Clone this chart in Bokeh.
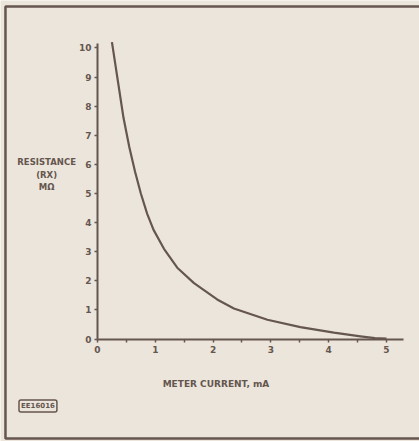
from bokeh.plotting import figure
from bokeh.models import Range1d, FixedTicker, Label, LinearAxis
from bokeh.embed import file_html
from bokeh.resources import INLINE

# Data
current_mA = [0.25, 0.35, 0.45, 0.55, 0.65, 0.75, 0.86, 0.97, 1.15, 1.38,
              1.67, 2.07, 2.36, 2.94, 3.51, 4.09, 4.55, 4.8, 5.0]
resistance_M = [10.2, 8.9, 7.6, 6.6, 5.75, 5.0, 4.3, 3.75, 3.1, 2.45,
                1.92, 1.36, 1.05, 0.66, 0.41, 0.22, 0.09, 0.03, 0.01]
x_ticks = [0, 1, 2, 3, 4, 5]
x_minor = [0.5, 1.5, 2.5, 3.5, 4.5]
y_ticks = [0, 1, 2, 3, 4, 5, 6, 7, 8, 9, 10]
x_title = "METER CURRENT, mA"
y_title = ["RESISTANCE", "(RX)", "M\u03a9"]
code_label = "EE16016"

INK = "#65564e"
PAPER = "#ece5dc"
FONT = "DejaVu Sans"

p = figure(width=419, height=441, output_backend="svg", toolbar_location=None,
           x_range=Range1d(-1.678, 5.571), y_range=Range1d(-3.522, 11.632),
           x_axis_location=None, y_axis_location=None,
           min_border=0)
p.background_fill_color = PAPER
p.border_fill_color = PAPER
p.outline_line_color = None
p.grid.visible = False

xax = LinearAxis(fixed_location=0, bounds=(0, 5.3),
                 ticker=FixedTicker(ticks=x_ticks, minor_ticks=x_minor))
yax = LinearAxis(fixed_location=0, bounds=(0, 10.15),
                 ticker=FixedTicker(ticks=y_ticks, minor_ticks=[]))
for ax in (xax, yax):
    ax.axis_line_color = INK
    ax.axis_line_width = 2
    ax.major_tick_line_color = INK
    ax.major_tick_line_width = 1.5
    ax.major_tick_in = 0
    ax.major_tick_out = 3
    ax.minor_tick_line_color = INK
    ax.minor_tick_line_width = 1.5
    ax.minor_tick_in = 0
    ax.minor_tick_out = 3
    ax.major_label_text_font = FONT
    ax.major_label_text_font_style = "bold"
    ax.major_label_text_font_size = "9px"
    ax.major_label_text_color = INK
xax.major_label_standoff = 4
yax.major_label_standoff = 3
p.add_layout(xax, "below")
p.add_layout(yax, "left")

p.line(current_mA, resistance_M, line_color=INK, line_width=2.2,
       line_join="round")

# axis titles
for i, t in enumerate(y_title):
    p.add_layout(Label(x=-0.88, y=6.07 - 0.43 * i, text=t, text_align="center",
                       text_baseline="middle", text_font=FONT,
                       text_font_style="bold", text_font_size="8.5px",
                       text_color=INK))
p.add_layout(Label(x=2.05, y=-1.53, text=x_title, text_align="center",
                   text_baseline="middle", text_font=FONT,
                   text_font_style="bold", text_font_size="9px",
                   text_color=INK))
p.add_layout(Label(x=-1.03, y=-2.3, text=code_label, text_align="center",
                   text_baseline="middle", text_font=FONT,
                   text_font_style="bold", text_font_size="7px",
                   text_color=INK, border_line_color=INK, border_line_width=1.5,
                   padding=2, border_radius=2))

# page frame
p.line([5.6, -1.592, -1.592, 5.6], [11.43, 11.43, -3.42, -3.42],
       line_color=INK, line_width=2.5)

open("out.html", "w").write(file_html(p, INLINE))
